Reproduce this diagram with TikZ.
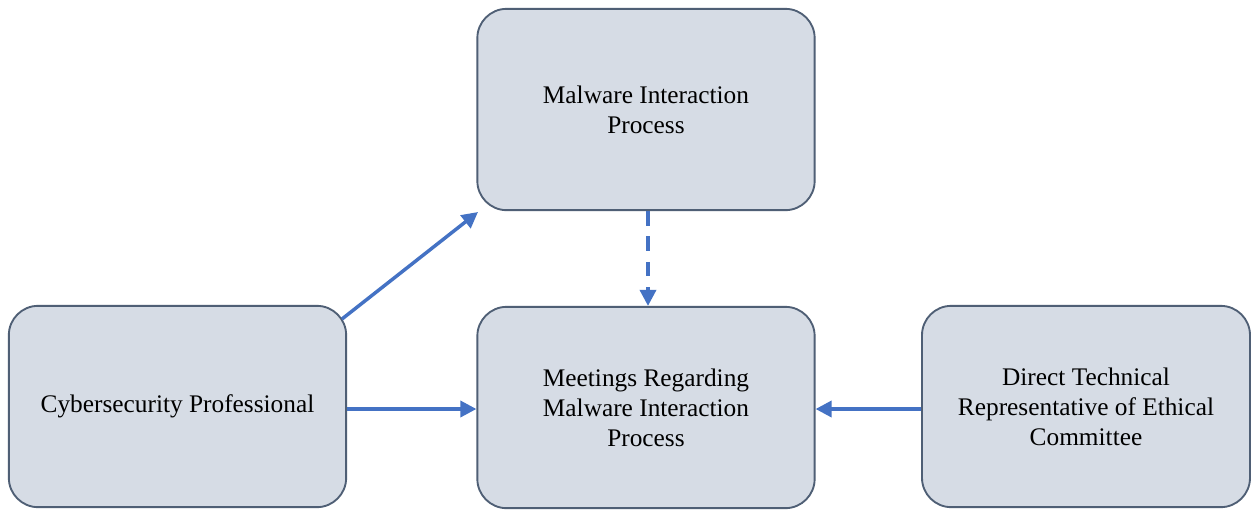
\documentclass[tikz,border=0pt]{standalone}
\usepackage{fontspec}
\setmainfont{Liberation Serif}
\usetikzlibrary{arrows.meta}
\definecolor{boxfill}{HTML}{D6DCE5}
\definecolor{boxline}{HTML}{4F5F75}
\definecolor{arrowblue}{HTML}{4472C4}
\tikzset{
  procbox/.style={draw=boxline, line width=1.4pt, fill=boxfill, rounded corners=22pt,
    minimum height=151pt, align=center, font=\fontsize{19}{22.5}\selectfont, inner sep=4pt},
  link/.style={draw=arrowblue, line width=2.6pt, -{Triangle[length=12pt,width=12pt]}},
  dashlink/.style={link, dash pattern=on 11pt off 8pt}
}
\begin{document}
\begin{tikzpicture}[x=0.75pt,y=-0.75pt]
  \useasboundingbox[fill=white] (0,0) rectangle (1254,512);
  \node[procbox, minimum width=253pt] (mip) at (646,109.5) {Malware Interaction\\Process};
  \node[procbox, minimum width=253pt] (cyb) at (177.5,406.5) {Cybersecurity Professional};
  \node[procbox, minimum width=253pt] (mtg) at (646,407.5) {Meetings Regarding\\Malware Interaction\\Process};
  \node[procbox, minimum width=246pt] (dtr) at (1086,406.5) {Direct Technical\\Representative of Ethical\\Committee};
  \coordinate (diagS) at (342,319);
  \coordinate (diagE) at (478,212);
  \draw[link] (diagS) -- (diagE);
  \draw[link] (cyb.east |- 0,409) -- (mtg.west |- 0,409);
  \draw[link] (dtr.west |- 0,409) -- (mtg.east |- 0,409);
  \draw[dashlink] (mip.south -| 648,0) -- (mtg.north -| 648,0);
\end{tikzpicture}
\end{document}
